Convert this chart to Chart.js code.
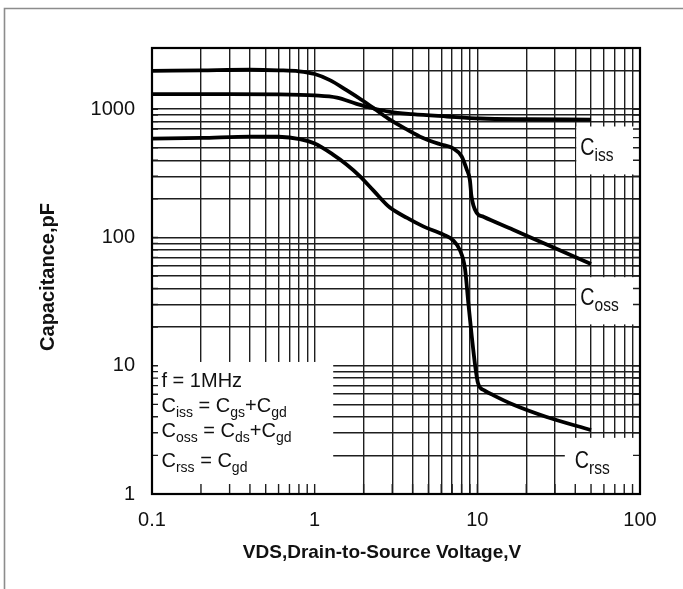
<!DOCTYPE html>
<html><head><meta charset="utf-8">
<script src="https://cdn.jsdelivr.net/npm/chart.js@4.4.0/dist/chart.umd.min.js"></script>
<style>html,body{margin:0;padding:0;background:#fff}canvas{display:block}</style>
</head><body>
<canvas id="c" width="683" height="589"></canvas>
<script>
// ---- data ----
const cissV = [0.1, 0.3, 0.6, 1.0, 1.37, 1.81, 2.19, 2.9, 4.0, 6.5, 10.4, 20, 50];
const cissC = [1310, 1310, 1305, 1280, 1230, 1100, 1030, 953, 914, 877, 846, 835, 830];
const cossV = [0.1, 0.2, 0.4, 0.6, 0.8, 1.0, 1.24, 1.57, 1.98, 2.4, 2.9, 3.7, 4.6, 5.9, 7.1, 8.0, 8.6, 9.0, 9.2, 9.9, 10.9, 16.6, 26.7, 50];
const cossC = [1990, 2010, 2030, 2010, 1975, 1880, 1685, 1407, 1164, 982, 828, 693, 600, 533, 495, 430, 340, 280, 210, 156, 145, 115, 88, 62];
const crssV = [0.1, 0.2, 0.4, 0.6, 0.81, 1.0, 1.29, 1.57, 1.9, 2.3, 2.9, 3.7, 4.65, 6.2, 7.1, 7.8, 8.4, 8.8, 9.24, 9.7, 10.1, 11.1, 12.5, 16.7, 26.4, 50];
const crssC = [590, 597, 612, 610, 585, 540, 445, 371, 300, 232, 171, 142, 122, 105, 95, 80, 57, 31, 17, 10, 7.3, 6.4, 5.9, 4.96, 4.0, 3.15];

const xTicks = [0.1,0.2,0.3,0.4,0.5,0.6,0.7,0.8,0.9,1,2,3,4,5,6,7,8,9,10,20,30,40,50,60,70,80,90,100];
const yTicks = [1,2,3,4,5,6,7,8,9,10,20,30,40,50,60,70,80,90,100,200,300,400,500,600,700,800,900,1000,2000,3000];
const xLabels = [0.1, 1, 10, 100];
const yLabels = [1, 10, 100, 1000];

const xTitle = 'VDS,Drain-to-Source Voltage,V';
const yTitle = 'Capacitance,pF';
const legendLines = [
  [['f = 1MHz', 0]],
  [['C',0],['iss',1],[' = C',0],['gs',1],['+C',0],['gd',1]],
  [['C',0],['oss',1],[' = C',0],['ds',1],['+C',0],['gd',1]],
  [['C',0],['rss',1],[' = C',0],['gd',1]]
];

// annotation boxes in data units
const boxes = {
  legend: {x0: 0.1, x1: 1.3, y0: 1, y1: 10.7},
  ciss: {x0: 40.6, x1: 100, y0: 310, y1: 733},
  coss: {x0: 40.6, x1: 100, y0: 21, y1: 49},
  crss: {x0: 34.5, x1: 100, y0: 1, y1: 2.74}
};

const FONT = '"Liberation Sans", Arial, Helvetica, sans-serif';
const GRID = '#1e1e1e';

function pts(xs, ys) { return xs.map((v, i) => ({x: v, y: ys[i]})); }

function drawParts(ctx, x, y, parts, mainPx, subPx, subDy, sx) {
  ctx.save();
  ctx.translate(x, y);
  ctx.scale(sx, 1);
  let cx = 0;
  ctx.textBaseline = 'alphabetic';
  ctx.textAlign = 'left';
  for (const [t, sub] of parts) {
    ctx.font = (sub ? subPx : mainPx) + 'px ' + FONT;
    ctx.fillText(t, cx, sub ? subDy : 0);
    cx += ctx.measureText(t).width;
  }
  ctx.restore();
}

const deco = {
  id: 'deco',
  beforeDraw(chart) {
    const ctx = chart.ctx;
    ctx.save();
    ctx.fillStyle = '#fff';
    ctx.fillRect(0, 0, chart.width, chart.height);
    ctx.strokeStyle = '#8c8c8c';
    ctx.lineWidth = 1.6;
    ctx.beginPath();
    ctx.moveTo(4.5, chart.height + 5);
    ctx.lineTo(4.5, 8.5);
    ctx.lineTo(chart.width + 5, 8.5);
    ctx.stroke();
    ctx.restore();
  },
  beforeDatasetsDraw(chart) {
    const ctx = chart.ctx, xs = chart.scales.x, ys = chart.scales.y, a = chart.chartArea;
    ctx.save();
    ctx.fillStyle = '#fff';
    for (const k in boxes) {
      const b = boxes[k];
      const l = xs.getPixelForValue(b.x0), r = xs.getPixelForValue(b.x1);
      const t = ys.getPixelForValue(b.y1), bt = ys.getPixelForValue(b.y0);
      ctx.fillRect(l, t, r - l, bt - t);
    }
    // inner tick marks
    ctx.strokeStyle = GRID;
    ctx.lineWidth = 1.4;
    ctx.beginPath();
    for (const v of xTicks) {
      const p = xs.getPixelForValue(v);
      ctx.moveTo(p, a.bottom); ctx.lineTo(p, a.bottom - 10);
    }
    for (const v of yTicks) {
      const p = ys.getPixelForValue(v);
      ctx.moveTo(a.left, p); ctx.lineTo(a.left + 6, p);
      ctx.moveTo(a.right, p); ctx.lineTo(a.right - 7, p);
    }
    ctx.stroke();
    // plot frame
    ctx.strokeStyle = '#000';
    ctx.lineWidth = 2.2;
    ctx.strokeRect(a.left, a.top, a.right - a.left, a.bottom - a.top);
    ctx.restore();
  },
  afterDatasetsDraw(chart) {
    const ctx = chart.ctx, xs = chart.scales.x, ys = chart.scales.y, a = chart.chartArea;
    ctx.save();
    ctx.fillStyle = '#111';
    // legend block
    const lb = boxes.legend;
    const lx = xs.getPixelForValue(lb.x0) + 9.5;
    const lt = ys.getPixelForValue(lb.y1);
    const offs = [25, 50, 75, 105];
    legendLines.forEach((parts, i) => drawParts(ctx, lx, lt + offs[i], parts, 20, 14, 5, 1));
    // curve labels
    const lab = [
      ['ciss', 'iss', 4, 28],
      ['coss', 'oss', 4, 28],
      ['crss', 'rss', 10, 30]
    ];
    for (const [k, s, dx, dy] of lab) {
      const b = boxes[k];
      drawParts(ctx, xs.getPixelForValue(b.x0) + dx, ys.getPixelForValue(b.y1) + dy,
        [['C', 0], [s, 1]], 24, 19, 6, 0.82);
    }
    // axis titles
    ctx.font = 'bold 19px ' + FONT;
    ctx.textAlign = 'center';
    ctx.textBaseline = 'middle';
    ctx.fillText(xTitle, (a.left + a.right) / 2 - 14, 553);
    ctx.save();
    ctx.translate(48.5, (a.top + a.bottom) / 2 + 6);
    ctx.rotate(-Math.PI / 2);
    ctx.font = 'bold 20px ' + FONT;
    ctx.fillText(yTitle, 0, 0);
    ctx.restore();
    ctx.restore();
  }
};

const lineStyle = {
  borderColor: '#000', borderWidth: 3.8, pointRadius: 0, fill: false,
  cubicInterpolationMode: 'monotone', tension: 0.4
};

new Chart(document.getElementById('c'), {
  type: 'line',
  data: {
    datasets: [
      Object.assign({label: 'Ciss', data: pts(cissV, cissC)}, lineStyle),
      Object.assign({label: 'Coss', data: pts(cossV, cossC)}, lineStyle),
      Object.assign({label: 'Crss', data: pts(crssV, crssC)}, lineStyle)
    ]
  },
  options: {
    responsive: false,
    animation: false,
    layout: {padding: {left: 0, top: 48, right: 43, bottom: 0}},
    plugins: {legend: {display: false}, tooltip: {enabled: false}},
    scales: {
      x: {
        type: 'logarithmic', min: 0.1, max: 100,
        afterBuildTicks: s => { s.ticks = xTicks.map(v => ({value: v})); },
        afterFit: s => { s.height = 95; },
        grid: {color: GRID, lineWidth: 1.4, drawTicks: false},
        border: {display: false},
        ticks: {
          autoSkip: false, maxRotation: 0, padding: 14, color: '#111',
          font: {family: FONT, size: 20},
          callback: v => xLabels.includes(v) ? String(v) : ''
        }
      },
      y: {
        type: 'logarithmic', min: 1, max: 3000,
        afterBuildTicks: s => { s.ticks = yTicks.map(v => ({value: v})); },
        afterFit: s => { s.width = 152; },
        grid: {color: GRID, lineWidth: 1.4, drawTicks: false},
        border: {display: false},
        ticks: {
          autoSkip: false, padding: 17, color: '#111',
          font: {family: FONT, size: 20},
          callback: v => yLabels.includes(v) ? String(v) : ''
        }
      }
    }
  },
  plugins: [deco]
});
</script>
</body></html>
